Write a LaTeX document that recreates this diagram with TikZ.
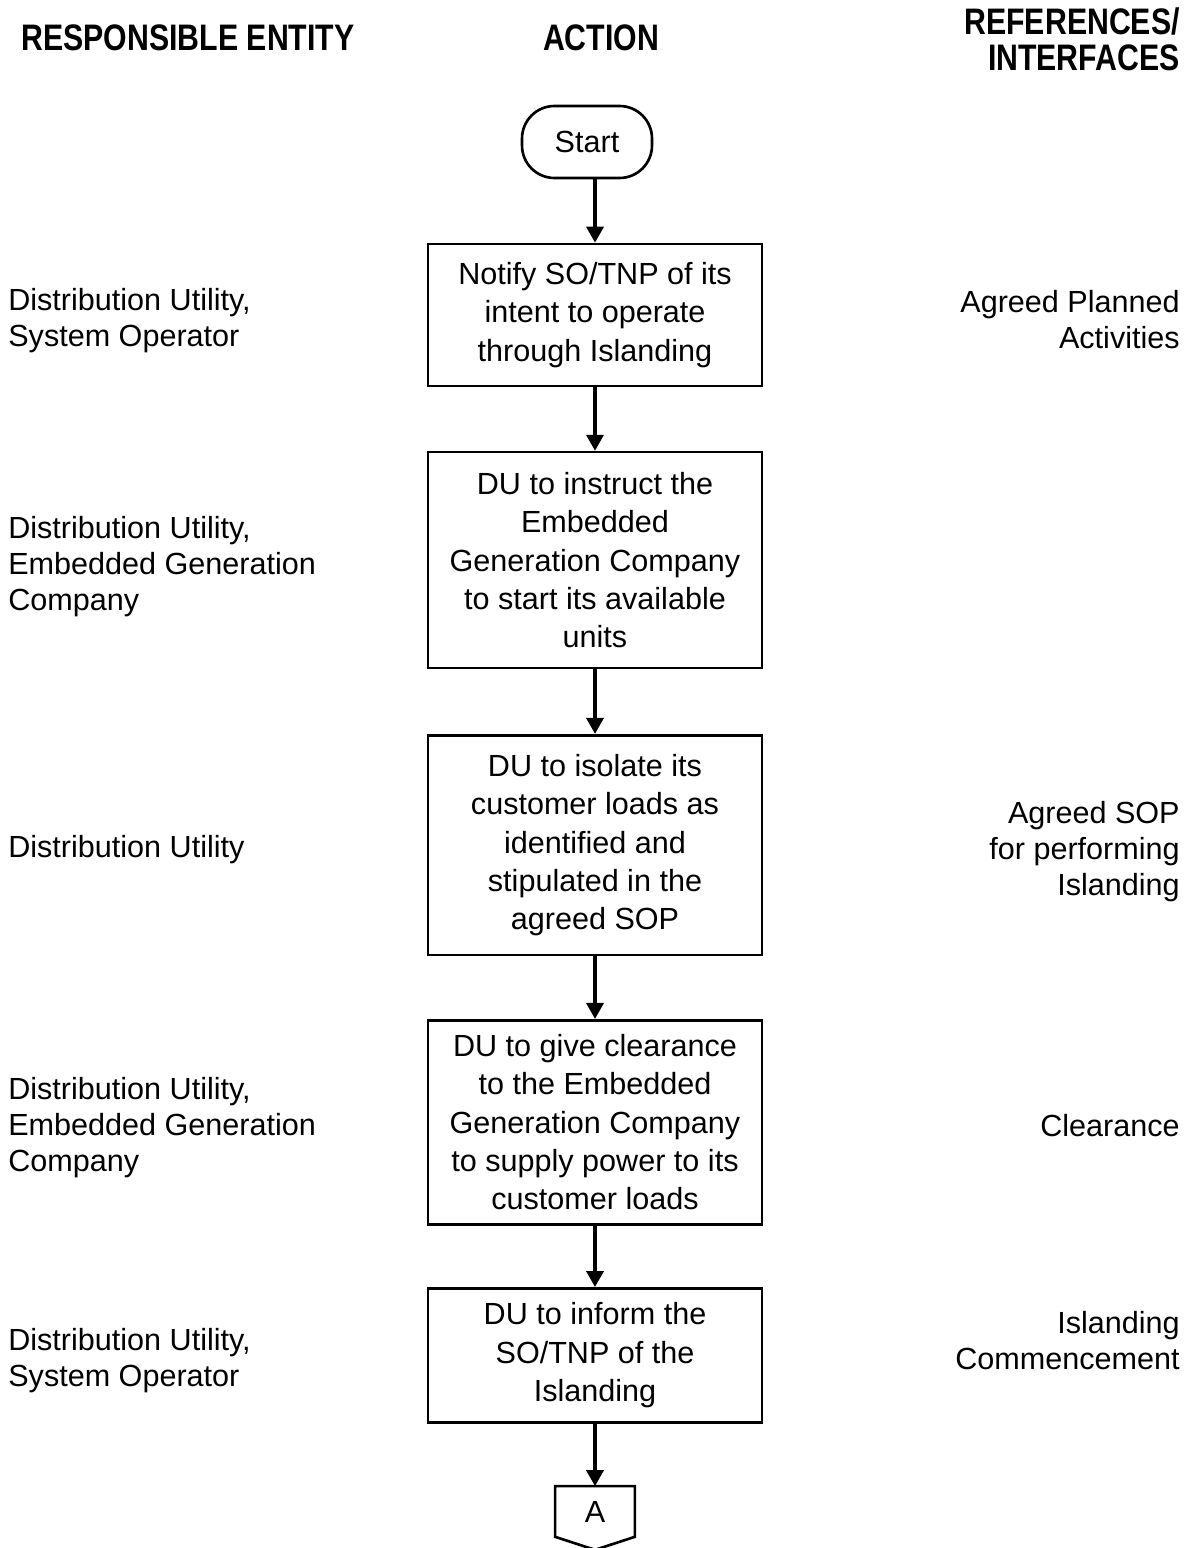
\documentclass[tikz,border=0pt]{standalone}
\usepackage{fontspec}
\setmainfont{Liberation Sans}
\newfontfamily\headfont{Liberation Sans}[FakeStretch=0.82]
\usetikzlibrary{positioning,arrows.meta}

\tikzset{
  act box/.style={draw, line width=1.5pt, minimum width=6.68cm, align=center, inner sep=0pt,
    font=\fontsize{17.4}{21.8}\selectfont},
  side text/.style={inner sep=0pt, font=\fontsize{17.4}{20.5}\selectfont},
  head text/.style={inner sep=0pt, font=\headfont\bfseries\fontsize{21}{20.5}\selectfont},
  flow/.style={draw, -{Triangle[length=0.32cm,width=0.34cm]}, line width=2pt},
}

\begin{document}
\begin{tikzpicture}[x=0.02cm, y=-0.02cm, node distance=1.26cm]
\useasboundingbox (0,0) rectangle (1191,1548);

% column headings
\node[head text] (hresp) at (188,38) {RESPONSIBLE ENTITY};
\node[head text] (hact) at (601,38) {ACTION};
\node[head text, align=right, anchor=east] (href) at (1180,39) {REFERENCES/\\INTERFACES};

% action column
\node[draw, line width=1.5pt, rounded corners=0.65cm, minimum width=2.6cm, minimum height=1.44cm,
  font=\fontsize{17.4}{21.8}\selectfont] (start) at (587,142) {Start};
\node[act box, minimum height=2.84cm] (notify) at (595,315) {Notify SO/TNP of its\\intent to operate\\through Islanding};
\node[act box, minimum height=4.32cm] (instruct) [below=1.27cm of notify] {DU to instruct the\\Embedded\\Generation Company\\to start its available\\units};
\node[act box, minimum height=4.4cm] (isolate) [below=1.29cm of instruct] {DU to isolate its\\customer loads as\\identified and\\stipulated in the\\agreed SOP};
\node[act box, minimum height=4.08cm] (clear) [below=1.25cm of isolate] {DU to give clearance\\to the Embedded\\Generation Company\\to supply power to its\\customer loads};
\node[act box, minimum height=2.68cm] (inform) [below=1.23cm of clear] {DU to inform the\\SO/TNP of the\\Islanding};
\node[minimum width=1.58cm, minimum height=1cm, inner sep=0pt,
  font=\fontsize{17.4}{21.8}\selectfont] (conA) [below=1.25cm of inform] {A};
\draw[line width=1.5pt] (conA.north west) -- (conA.north east) -- (conA.south east)
  -- ([yshift=-0.26cm]conA.south) -- (conA.south west) -- cycle;

\path (start.south -| notify) edge[flow] (notify.north)
  (notify) edge[flow] (instruct)
  (instruct) edge[flow] (isolate)
  (isolate) edge[flow] (clear)
  (clear) edge[flow] (inform)
  (inform) edge[flow] (conA);

% responsible entity column
\node[side text, align=left, anchor=west] (ent1) at (8,321) {Distribution Utility,\\System Operator};
\node[side text, align=left, anchor=west] (ent2) at (8,567) {Distribution Utility,\\Embedded Generation\\Company};
\node[side text, align=left, anchor=west] (ent3) at (8,850) {Distribution Utility};
\node[side text, align=left, anchor=west] (ent4) at (8,1128) {Distribution Utility,\\Embedded Generation\\Company};
\node[side text, align=left, anchor=west] (ent5) at (8,1361) {Distribution Utility,\\System Operator};

% references column
\node[side text, align=right, anchor=east] (ref1) at (1180,320) {Agreed Planned\\Activities};
\node[side text, align=right, anchor=east] (ref2) at (1180,852) {Agreed SOP\\for performing\\Islanding};
\node[side text, align=right, anchor=east] (ref3) at (1180,1126) {Clearance};
\node[side text, align=right, anchor=east] (ref4) at (1180,1341) {Islanding\\Commencement};

\end{tikzpicture}
\end{document}
